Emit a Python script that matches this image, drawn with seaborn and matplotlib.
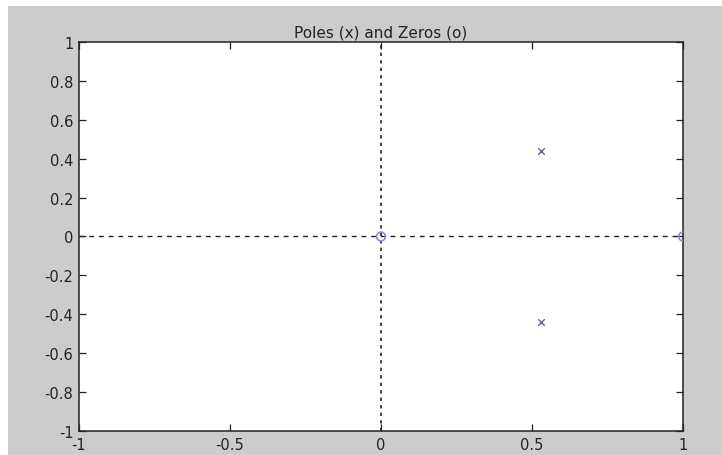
import numpy as np
import pandas as pd
import matplotlib
matplotlib.use("Agg")
import matplotlib.pyplot as plt
import seaborn as sns
from matplotlib.patches import Rectangle

# Data
zeros_re = [0.0, 1.0]
zeros_im = [0.0, 0.0]
poles_re = [0.53, 0.53]
poles_im = [0.44, -0.44]
x_ticks = [-1, -0.5, 0, 0.5, 1]
x_tick_labels = ["-1", "-0.5", "0", "0.5", "1"]
y_ticks = [-1, -0.8, -0.6, -0.4, -0.2, 0, 0.2, 0.4, 0.6, 0.8, 1]
y_tick_labels = ["-1", "-0.8", "-0.6", "-0.4", "-0.2", "0", "0.2", "0.4", "0.6", "0.8", "1"]
title = "Poles (x) and Zeros (o)"

sns.set_style("ticks")
plt.rcParams["font.family"] = ["DejaVu Sans"]

W, H = 722, 456
fig = plt.figure(figsize=(W / 100, H / 100), dpi=100, facecolor="white")
# grey figure panel (MATLAB style), with thin white margin at top/left
fig.patches.append(Rectangle((8 / W, 0), 1 - 8 / W, 1 - 7 / H, transform=fig.transFigure,
                             facecolor="#cccccc", edgecolor="none", zorder=-10))

ax = fig.add_axes([79 / W, 1 - 432 / H, (683 - 79) / W, (432 - 43) / H])
ax.set_facecolor("white")

ax.axhline(0, color="#222222", linestyle=(0, (3.5, 3.5)), linewidth=1.0, zorder=1)
ax.axvline(0, color="#222222", linestyle=(0, (2, 2.5)), linewidth=1.2, zorder=1)

zdf = pd.DataFrame({"re": zeros_re, "im": zeros_im})
pdf = pd.DataFrame({"re": poles_re, "im": poles_im})
sns.scatterplot(data=zdf, x="re", y="im", ax=ax, marker="o", s=40,
                facecolor="none", edgecolor="#9a86c0", linewidth=1.2, zorder=3, clip_on=True)
sns.scatterplot(data=pdf, x="re", y="im", ax=ax, marker="x", s=22,
                color="#6a6080", linewidth=1.0, zorder=3)

ax.set_xlim(-1, 1)
ax.set_ylim(-1, 1)
ax.set_xticks(x_ticks)
ax.set_xticklabels(x_tick_labels)
ax.set_yticks(y_ticks)
ax.set_yticklabels(y_tick_labels)
ax.set_xlabel("")
ax.set_ylabel("")
ax.tick_params(direction="in", top=True, right=True, length=5, width=0.9,
               labelsize=10.5, colors="#222222", pad=4)
for sp in ax.spines.values():
    sp.set_visible(True)
    sp.set_color("#222222")
    sp.set_linewidth(1.1)
ax.set_title(title, fontsize=11, color="#222222", pad=4)

fig.savefig("out.png", dpi=100, facecolor=fig.get_facecolor())
